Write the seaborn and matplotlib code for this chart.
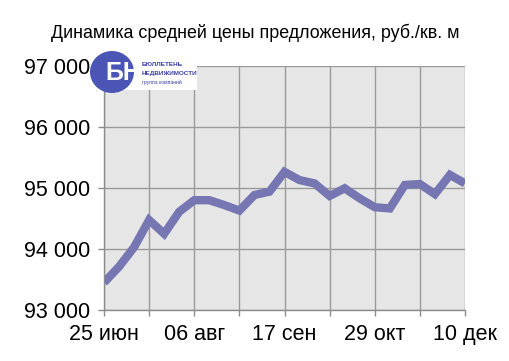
import matplotlib
matplotlib.use("Agg")
import matplotlib.pyplot as plt
import seaborn as sns
import pandas as pd
from matplotlib.patches import Ellipse, Rectangle

weeks = list(range(25))
prices = [93450, 93710, 94030, 94475, 94250, 94610, 94800, 94800, 94720, 94630,
          94885, 94940, 95265, 95130, 95075, 94870, 94995, 94830, 94685, 94665,
          95050, 95065, 94900, 95215, 95075]
tick_pos = [0, 6, 12, 18, 24]
tick_labels = ["25 июн", "06 авг", "17 сен", "29 окт", "10 дек"]
y_ticks = [93000, 94000, 95000, 96000, 97000]
title = "Динамика средней цены предложения, руб./кв. м"

sns.set_theme(style="white")
plt.rcParams['font.family'] = ['Liberation Sans', 'DejaVu Sans']

W, H = 510, 361
fig = plt.figure(figsize=(5.1, 3.61), dpi=100)
ax = fig.add_axes([104/W, 1-310/H, 361/W, 244/H])
ax.set_facecolor("#E6E6E6")

df = pd.DataFrame({"week": weeks, "price": prices})
sns.lineplot(data=df, x="week", y="price", ax=ax, color="#7676B2", linewidth=6,
             solid_joinstyle="miter", solid_capstyle="butt")

ax.set_xlim(0, 24)
ax.set_ylim(93000, 97000)
ax.set_xticks(tick_pos)
ax.set_xticklabels(tick_labels)
ax.set_xticks([3, 9, 15, 21], minor=True)
ax.set_yticks(y_ticks)
ax.set_yticklabels([f"{v:,}".replace(",", " ") for v in y_ticks])
ax.grid(True, which="both", color="#9A9A9A", linewidth=1)
ax.set_axisbelow(True)
ax.set_xlabel("")
ax.set_ylabel("")
for s in ["top", "right"]:
    ax.spines[s].set_visible(False)
for s in ["left", "bottom"]:
    ax.spines[s].set_color("#8C8C8C")
    ax.spines[s].set_linewidth(1)
ax.tick_params(axis="both", which="major", labelsize=15.5, colors="#8C8C8C",
               labelcolor="black", length=4, width=1, direction="out")
ax.tick_params(axis="x", which="major", pad=6)
ax.tick_params(axis="y", which="major", pad=6)
ax.tick_params(axis="x", which="minor", length=4, width=1, color="#8C8C8C", direction="out", bottom=True)
ax.yaxis.set_tick_params(left=True)
ax.xaxis.set_tick_params(bottom=True)

fig.text(255/W, 1-33/H, title, ha="center", va="center", fontsize=12.9, color="black")

# logo
fig.patches.append(Rectangle((105/W, 1-90/H), 92/W, 24/H, transform=fig.transFigure,
                             facecolor="white", edgecolor="none", zorder=5))
fig.patches.append(Ellipse((112/W, 1-72/H), 44/W, 42/H, transform=fig.transFigure,
                           facecolor="#4B55B5", edgecolor="none", zorder=6))
fig.text(123/W, 1-73/H, "БН", ha="center", va="center", fontsize=18, fontweight="bold",
         color="white", zorder=7)
fig.text(142/W, 1-65/H, "БЮЛЛЕТЕНЬ", ha="left", va="center", fontsize=4.6, fontweight="bold",
         color="#3A3FA8", zorder=7)
fig.text(142/W, 1-73/H, "НЕДВИЖИМОСТИ", ha="left", va="center", fontsize=4.6, fontweight="bold",
         color="#3A3FA8", zorder=7)
fig.text(142/W, 1-82/H, "группа компаний", ha="left", va="center", fontsize=3.6,
         color="#3A3FA8", zorder=7)

fig.savefig("out.png", dpi=100, facecolor="white")
